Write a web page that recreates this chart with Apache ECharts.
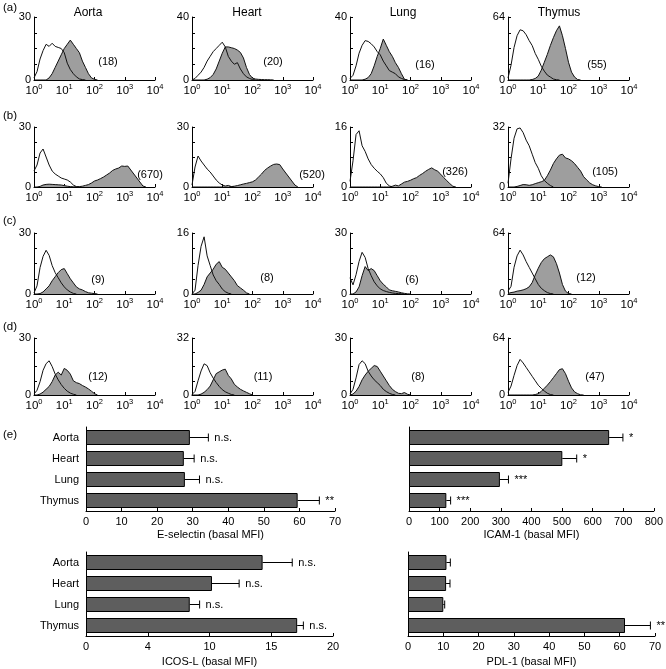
<!DOCTYPE html>
<html><head><meta charset="utf-8">
<script src="https://cdn.jsdelivr.net/npm/echarts@6/dist/echarts.min.js"></script>
<style>html,body{margin:0;padding:0;background:#fff}#c{width:666px;height:669px}</style>
</head><body><div id="c"></div>
<script>
// ---------- DATA ----------
// fluorescence channel positions (log10 of intensity)
const logGrid = [0,0.1,0.2,0.3,0.4,0.5,0.6,0.7,0.8,0.9,1,1.1,1.2,1.3,1.4,1.5,1.6,1.7,1.8,1.9,2,2.1,2.2,2.3,2.4,2.5,2.6,2.7,2.8,2.9,3,3.1,3.2,3.3,3.4,3.5,3.6,3.7,3.8,3.9,4];
const decadeExponents = ['0','1','2','3','4'];
const tissues = ['Aorta','Heart','Lung','Thymus'];
const panelLetters = ['(a)','(b)','(c)','(d)','(e)'];
const histYMax = [[30,40,40,64],[30,30,16,32],[30,16,30,64],[30,32,30,64]];
const histMfi = [['(18)','(20)','(16)','(55)'],['(670)','(520)','(326)','(105)'],['(9)','(8)','(6)','(12)'],['(12)','(11)','(8)','(47)']];

// (a) E-selectin: isotype (open) and stained (filled) counts
const eselAortaIso   = [1,4,10,14,17,16,17.5,16,15.5,15,13,8,5,3,1.5,0.5,0.2,0];
const eselAortaStain = [0,0,0,0,0,1,3,6,9,12,15,17,19,17,15,13,9,6,3,1,0.3,0];
const eselHeartIso   = [0,1,3,5,8,12,15,18,20,22,24,21,15,12,10,11,7,4,2,1,0.3,0];
const eselHeartStain = [0,0,0,0,0,0.5,1.5,3.5,7,12,17,21,21,20.5,20,19,17.5,14,8,3.5,1.2,0.6,0.4,0.3,0.2,0.2,0.1,0];
const eselLungIso    = [1,3,9,17,22,25,24.5,23,21,18,16,12,9,6,5,4,2,1,0.3,0];
const eselLungStain  = [0,0,0,0,0,0.5,1.5,4,9,15,20,26,22,18,15,11,8,4,0.5,0];
const eselThymusIso  = [2,15,33,45,51,50,46,40,35,27,21,14,9,5,3,1,0.3,0];
const eselThymusStain= [0,0,0,0,0,0,0,0,0.5,1.5,4,10,18,26,35,43,50,55,45,32,18,8,3,0.5,0];
// (b) ICAM-1
const icamAortaIso   = [8,11,17,19,15,11,8,6.5,5.5,4.5,4,3.5,2.5,1,0.2,0];
const icamAortaStain = [0,0,0.3,1,1.3,1.4,1.3,1.2,1.1,1,0.7,0.4,0.2,0.1,0.1,0.2,0.4,0.8,1.2,2,3,3.5,4.2,5,6,7,8.3,9,9.5,10.5,10.3,10.5,8.5,6.5,4.5,2.5,0.5,0];
const icamHeartIso   = [1,10,15.5,13,11,9,7.5,5.5,3.5,2,1,0.5,0.8,0.2,0];
const icamHeartStain = [0,0,0,0,0,0,0,0,0,0,0,0,0,0.2,0.4,0.7,1.1,1.5,1.8,2.2,2.6,3.5,5,6.5,8.3,9.5,10.5,11.3,11.5,11.2,9,7,5,3,1,0];
const icamLungIso    = [1.5,7,14,15,11,9.5,7.5,6,5,4.2,3.5,2.5,1,0.3,0];
const icamLungStain  = [0,0,0,0,0,0,0,0,0,0,0,0,0,0,0.2,0.5,0.3,0.8,1.3,1.5,1.8,2.2,2.5,3.1,3.6,4.2,4.7,5.1,4.6,4.2,3.4,2.5,1.7,0.9,0.2,0];
const icamThymusIso  = [2,15,26,31,31.5,29,25,22,17.5,13,10,6,3.5,2,0.8,0];
const icamThymusStain= [0,0,0,0.3,0.8,1.3,1.2,0.9,1.2,1.8,2.3,2.8,3.5,6,9,12.5,15,17,17.5,15.5,15,14,12.5,10.5,8.5,5.5,3.8,2.2,1.2,0.6,0.2,0];
// (c) ICOS-L
const icosAortaIso   = [0.5,4,13,18.5,21.5,19,14,10.5,8,5.5,3.5,2,1,0.3,0];
const icosAortaStain = [0,0,0.2,1,2.5,4,6.5,8.5,10.5,12,12.5,10,7.5,5.5,3.5,2.5,2,1.2,0.6,0.4,0.2,0];
const icosHeartIso   = [0,1,7.5,12.5,15,10,7.5,5,3.5,2.5,1.3,0.6,0.2,0];
const icosHeartStain = [0,0,0.4,1,2.5,4.5,5.5,6.5,7.8,8.5,7,6.5,5.5,4.5,3.5,2.2,1.6,1,0.3,0];
const icosLungIso    = [8,4.5,9.5,16,20.5,18,12.5,9,6,4,2.5,1.7,1.2,0.8,0.5,0.3,0.2,0.1,0];
const icosLungStain  = [0,0,1,3.5,9,13.5,11.5,12.5,11.5,9,6.5,4.8,3.5,2,1.6,1.3,1,0.6,0.3,0.1,0];
const icosThymusIso  = [3,8,28,40,46,41,34,28,22,16,10,6,3.5,1.5,0.5,0];
const icosThymusStain= [0.5,1.5,2,3,3.5,4.3,5.5,7.5,12,20,27,33,37,39,41,39,32,22,10,3,0.5,0];
// (d) PDL-1
const pdlAortaIso    = [0.5,2.5,7,13,16.5,18,15,11,8,5.5,3.5,2,1,0.4,0];
const pdlAortaStain  = [0,0,0.5,1.5,3,4.5,7,10.5,12,10.5,14,13,11,7.5,6.5,6,5,4.2,3.2,2,0.7,0];
const pdlHeartIso    = [0.3,2,8,13.5,17.5,16.5,12.5,9.5,7,4.8,3,1.8,1,0.3,0];
const pdlHeartStain  = [0,0,0,0.5,1.5,3,5,8.5,12,13,14,14.5,11,9,6,4.5,3.2,2.3,1.5,0.7,0];
const pdlLungIso     = [0.5,3,9,16,18,16.5,12.5,10,8,6.5,5,3,1.8,0.9,0.3,0];
const pdlLungStain   = [0,0.5,2,4.5,8,10.5,12.5,14,15.5,15,12.5,10,7.5,5,3,1.8,0.9,0.7,1.3,0.4,0];
const pdlThymusIso   = [3,10,22,33,40,36,31,26,21,16,11,7.5,4.5,2,0.5,0];
const pdlThymusStain = [0,0,0,0,0,0,0,0,0,0.5,1.5,4,7.5,11,15,19.5,24,28.5,29.5,24,15.5,8,3.5,1.5,0.2,0];

// (e) basal MFI bars (mean and SEM)
const barCategories = ['Aorta','Heart','Lung','Thymus'];
const eselMean = [29.2, 27.5, 27.8, 59.5];
const eselSem  = [5.2, 2.9, 4.1, 6.1];
const eselSig  = ['n.s.','n.s.','n.s.','**'];
const icamMean = [654, 501, 297, 122];
const icamSem  = [45, 47, 28, 14];
const icamSig  = ['*','*','***','***'];
const icosMean = [14.3, 10.2, 8.4, 17.1];
const icosSem  = [2.4, 2.2, 0.8, 0.5];
const icosSig  = ['n.s.','n.s.','n.s.','n.s.'];
const pdlMean  = [10.9, 10.8, 10.0, 61.5];
const pdlSem   = [1.1, 1.1, 0.4, 7.2];
const pdlSig   = ['','','','**'];
const eselTicks = ['0','10','20','30','40','50','60','70'];
const icamTicks = ['0','100','200','300','400','500','600','700','800'];
const icosTicks = ['0','4','10','15','20'];
const pdlTicks  = ['0','10','20','30','40','50','60','70'];
const barAxisNames = ['E-selectin (basal MFI)','ICAM-1 (basal MFI)','ICOS-L (basal MFI)','PDL-1 (basal MFI)'];

// ---------- LAYOUT ----------
const FONT = '"Liberation Sans", Arial, Helvetica, sans-serif';
const colLeft = [34, 192, 350, 508];
const histW = 121;
const rowTop = [17, 127, 233, 338];
const rowH = [63, 60, 61, 57];
const mfiPos = [[[108,62],[273,62],[425,65],[597,65]],
                [[150,175],[312,175],[455,172],[605,172]],
                [[98,280],[267,278],[412,280],[586,278]],
                [[98,377],[263,377],[418,377],[595,377]]];
const titlePos = [[88,13],[247,13],[403,13],[559,13]];
const letterY = [8, 116, 221, 327, 435];

const histCurves = [
  [[eselAortaIso,eselAortaStain],[eselHeartIso,eselHeartStain],[eselLungIso,eselLungStain],[eselThymusIso,eselThymusStain]],
  [[icamAortaIso,icamAortaStain],[icamHeartIso,icamHeartStain],[icamLungIso,icamLungStain],[icamThymusIso,icamThymusStain]],
  [[icosAortaIso,icosAortaStain],[icosHeartIso,icosHeartStain],[icosLungIso,icosLungStain],[icosThymusIso,icosThymusStain]],
  [[pdlAortaIso,pdlAortaStain],[pdlHeartIso,pdlHeartStain],[pdlLungIso,pdlLungStain],[pdlThymusIso,pdlThymusStain]]
];

const grids = [], xAxes = [], yAxes = [], series = [], graphics = [];
function txt(x, y, t, size, align) {
  return {type:'text', x:x, y:y, silent:true,
    style:{text:t, font: size + 'px ' + FONT, fill:'#000',
      textAlign: align || 'center', textVerticalAlign:'middle',
      align: align || 'center', verticalAlign:'middle'}};
}
const axisLineStyle = {show:true, lineStyle:{color:'#000', width:1}};

let gi = 0;
for (let r = 0; r < 4; r++) {
  for (let c = 0; c < 4; c++) {
    const M = histYMax[r][c];
    grids.push({left: colLeft[c], top: rowTop[r], width: histW, height: rowH[r]});
    xAxes.push({gridIndex: gi, type:'value', min:0, max:4, interval:1,
      axisLine: axisLineStyle, axisTick:{show:true, inside:true, length:3, lineStyle:{color:'#000'}},
      splitLine:{show:false},
      axisLabel:{margin:3, formatter: v => '{b|10}{s|' + decadeExponents[Math.round(v)] + '}',
        rich:{ b:{fontSize:11.5, fontFamily:FONT, color:'#000', lineHeight:14, verticalAlign:'bottom'},
               s:{fontSize:7.5, fontFamily:FONT, color:'#000', lineHeight:8, verticalAlign:'top'} }}
    });
    yAxes.push({gridIndex: gi, type:'value', min:0, max:M, interval:M/4,
      axisLine: axisLineStyle, axisTick:{show:true, inside:true, length:3, lineStyle:{color:'#000'}},
      splitLine:{show:false},
      axisLabel:{margin:3, fontSize:11, fontFamily:FONT, color:'#000',
        formatter: v => (v === 0 || Math.abs(v - M) < 1e-6) ? String(v) : ''}
    });
    const [iso, stain] = histCurves[r][c];
    series.push({type:'line', xAxisIndex:gi, yAxisIndex:gi, symbol:'none', silent:true,
      data: stain.map((v,i) => [logGrid[i], v]),
      lineStyle:{color:'#111', width:1}, areaStyle:{color:'#9e9e9e', opacity:1}, z:2});
    series.push({type:'line', xAxisIndex:gi, yAxisIndex:gi, symbol:'none', silent:true,
      data: iso.map((v,i) => [logGrid[i], v]),
      lineStyle:{color:'#111', width:1}, z:3});
    graphics.push(txt(mfiPos[r][c][0], mfiPos[r][c][1], histMfi[r][c], 11));
    gi++;
  }
}
for (let c = 0; c < 4; c++) graphics.push(txt(titlePos[c][0], titlePos[c][1], tissues[c], 12));
for (let r = 0; r < 5; r++) graphics.push(txt(3, letterY[r], panelLetters[r], 11.5, 'left'));

// bar panels
const barPanels = [
  {mean:eselMean, sem:eselSem, sig:eselSig, max:70, interval:10, ticks:eselTicks, gap:18, box:{left:86, top:427, width:249, height:84}},
  {mean:icamMean, sem:icamSem, sig:icamSig, max:800, interval:100, ticks:icamTicks, gap:18, box:{left:409, top:427, width:247, height:84}},
  {mean:icosMean, sem:icosSem, sig:icosSig, max:20, interval:5, ticks:icosTicks, gap:20, box:{left:86, top:552, width:247, height:84}},
  {mean:pdlMean, sem:pdlSem, sig:pdlSig, max:70, interval:10, ticks:pdlTicks, gap:20, box:{left:408, top:552, width:247, height:84}}
];
barPanels.forEach((p, k) => {
  grids.push(p.box);
  xAxes.push({gridIndex: gi, type:'value', min:0, max:p.max, interval:p.interval,
    name: barAxisNames[k], nameLocation:'middle', nameGap:p.gap,
    nameTextStyle:{fontSize:11, fontFamily:FONT, color:'#000'},
    axisLine: axisLineStyle, axisTick:{show:true, inside:true, length:3, lineStyle:{color:'#000'}},
    splitLine:{show:false},
    axisLabel:{margin:5, fontSize:11, fontFamily:FONT, color:'#000',
      formatter: v => p.ticks[Math.round(v / p.interval)]}
  });
  yAxes.push({gridIndex: gi, type:'category', data: barCategories, inverse:true,
    axisLine: axisLineStyle, axisTick:{show:true, inside:true, length:3, alignWithLabel:true, lineStyle:{color:'#000'}},
    axisLabel:{show: k % 2 === 0, margin:7, fontSize:11, fontFamily:FONT, color:'#000'}
  });
  series.push({type:'bar', xAxisIndex:gi, yAxisIndex:gi, data:p.mean, barWidth:15, silent:true,
    itemStyle:{color:'#5e5e5e', borderColor:'#000', borderWidth:1}, z:2});
  const sig = p.sig;
  series.push({type:'custom', xAxisIndex:gi, yAxisIndex:gi, silent:true, z:3,
    data: p.mean.map((m,i) => [m, m + p.sem[i], i]),
    encode:{x:[0,1], y:2},
    renderItem: (params, api) => {
      const i = params.dataIndex;
      const a = api.coord([api.value(0), api.value(2)]);
      const b = api.coord([api.value(1), api.value(2)]);
      const h = 4;
      return {type:'group', children:[
        {type:'line', shape:{x1:a[0], y1:a[1], x2:b[0], y2:b[1]}, style:{stroke:'#000', lineWidth:1}},
        {type:'line', shape:{x1:b[0], y1:b[1]-h, x2:b[0], y2:b[1]+h}, style:{stroke:'#000', lineWidth:1}},
        {type:'text', x:b[0]+6, y:b[1], style:{text: sig[i], font:'11px ' + FONT, fill:'#000',
          textAlign:'left', textVerticalAlign:'middle', align:'left', verticalAlign:'middle'}}
      ]};
    }
  });
  gi++;
});

const chart = echarts.init(document.getElementById('c'), null, {renderer:'canvas'});
chart.setOption({
  animation:false,
  backgroundColor:'#fff',
  textStyle:{fontFamily:FONT},
  grid: grids, xAxis: xAxes, yAxis: yAxes, series: series, graphic: graphics
});
</script>
</body></html>
